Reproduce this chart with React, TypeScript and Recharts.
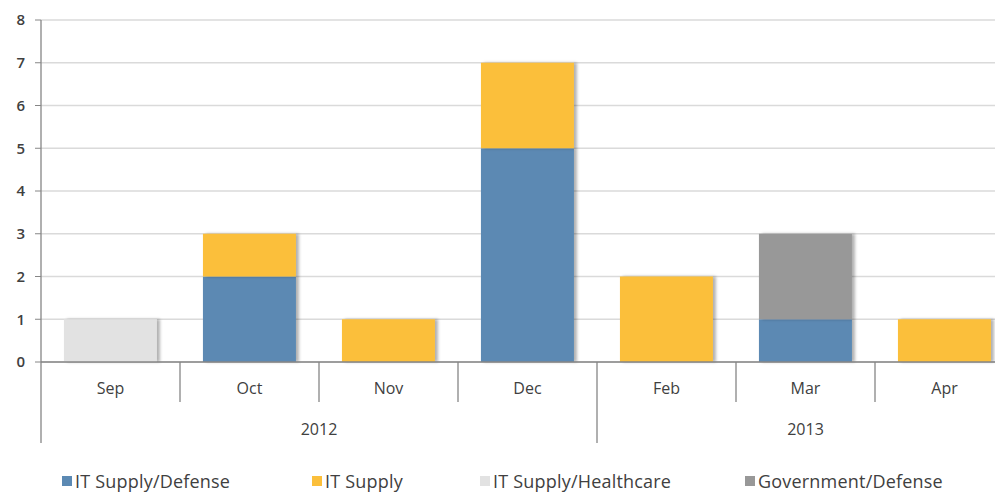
import React from 'react';
import { BarChart, Bar, XAxis, YAxis, CartesianGrid, Legend } from 'recharts';

const months = ['Sep', 'Oct', 'Nov', 'Dec', 'Feb', 'Mar', 'Apr'];
const years = ['2012', '2012', '2012', '2012', '2013', '2013', '2013'];
const itSupplyDefense = [null, 2, null, 5, null, 1, null];
const itSupply = [null, 1, 1, 2, 2, null, 1];
const itSupplyHealthcare = [1, null, null, null, null, null, null];
const governmentDefense = [null, null, null, null, null, 2, null];
const yTicks = [0, 1, 2, 3, 4, 5, 6, 7, 8];

const series = [
  { key: 'defense', name: 'IT Supply/Defense', color: '#5b89b3', values: itSupplyDefense },
  { key: 'supply', name: 'IT Supply', color: '#fbbf3b', values: itSupply },
  { key: 'health', name: 'IT Supply/Healthcare', color: '#e2e2e2', values: itSupplyHealthcare },
  { key: 'gov', name: 'Government/Defense', color: '#989898', values: governmentDefense },
];

const data = months.map((m, i) => {
  const row: Record<string, any> = { month: m, year: years[i] };
  series.forEach((s) => { row[s.key] = s.values[i]; });
  return row;
});

const W = 1015;
const H = 486;
const MARGIN = { top: 12, right: 9, left: 0, bottom: 2 };
const Y_W = 33;
const BAND = (W - MARGIN.left - MARGIN.right - Y_W) / months.length;
const FONT = '"Open Sans", sans-serif';
const TEXT = '#404040';
const LINE = '#868686';

const MonthTick = (props: any) => {
  const { x, y, payload } = props;
  const left = x - BAND / 2;
  return (
    <g>
      <line x1={left} y1={y} x2={left} y2={y + 40} stroke={LINE} strokeWidth={1.3} />
      <text x={x} y={y + 32} textAnchor="middle" fill={TEXT} fontSize={16} fontFamily={FONT}>
        {payload.value}
      </text>
    </g>
  );
};

const YearTick = (props: any) => {
  const { x, y, payload } = props;
  const i = payload.index;
  if (i > 0 && years[i - 1] === years[i]) return null;
  const count = years.filter((yy) => yy === years[i]).length;
  const left = x - BAND / 2;
  return (
    <g>
      <line x1={left} y1={y} x2={left} y2={y + 41} stroke={LINE} strokeWidth={1.3} />
      <text x={left + (count * BAND) / 2} y={y + 33} textAnchor="middle" fill={TEXT} fontSize={16} fontFamily={FONT}>
        {payload.value}
      </text>
    </g>
  );
};

const legendWidths = [250, 168, 265, 220];

const LegendContent = () => (
  <div style={{ display: 'flex', paddingLeft: 54, fontFamily: FONT, fontSize: 18, lineHeight: '22px', color: TEXT, height: 22, alignItems: 'center', whiteSpace: 'nowrap' }}>
    {series.map((s, i) => (
      <div key={s.key} style={{ width: legendWidths[i], display: 'flex', alignItems: 'center' }}>
        <span style={{ width: 10, height: 10, background: s.color, marginRight: 3, display: 'inline-block' }} />
        <span style={{ letterSpacing: 0.2 }}>{s.name}</span>
      </div>
    ))}
  </div>
);

export default function App() {
  return (
    <div style={{ width: 995, height: 486, overflow: 'hidden', background: '#fff' }}>
      <BarChart width={W} height={H} data={data} margin={MARGIN} barCategoryGap="16.5%">
        <defs>
          <filter id="barShadow" x="-10%" y="-10%" width="130%" height="120%">
            <feDropShadow dx="3" dy="0" stdDeviation="1.5" floodColor="#000" floodOpacity="0.3" />
          </filter>
        </defs>
        <CartesianGrid vertical={false} stroke="#dadada" strokeWidth={1.3} />
        <XAxis
          dataKey="month"
          xAxisId="month"
          tick={<MonthTick />}
          tickLine={false}
          tickSize={0}
          tickMargin={0}
          height={40}
          axisLine={{ stroke: LINE, strokeWidth: 1.3 }}
          interval={0}
        />
        <XAxis
          dataKey="year"
          xAxisId="year"
          tick={<YearTick />}
          tickLine={false}
          tickSize={0}
          tickMargin={0}
          height={68}
          axisLine={false}
          interval={0}
          allowDuplicatedCategory
        />
        <YAxis
          domain={[0, 8]}
          ticks={yTicks}
          width={Y_W}
          tickSize={6}
          tickMargin={10}
          stroke={LINE}
          axisLine={{ stroke: LINE, strokeWidth: 1.3 }}
          tick={{ fill: TEXT, fontSize: 15, fontFamily: FONT, fontWeight: 600 }}
        />
        <Legend verticalAlign="bottom" align="left" content={<LegendContent />} wrapperStyle={{ left: 0, width: W }} />
        {series.map((s) => (
          <Bar
            key={s.key}
            dataKey={s.key}
            name={s.name}
            stackId="a"
            xAxisId="month"
            fill={s.color}
            filter="url(#barShadow)"
            isAnimationActive={false}
          />
        ))}
      </BarChart>
    </div>
  );
}
